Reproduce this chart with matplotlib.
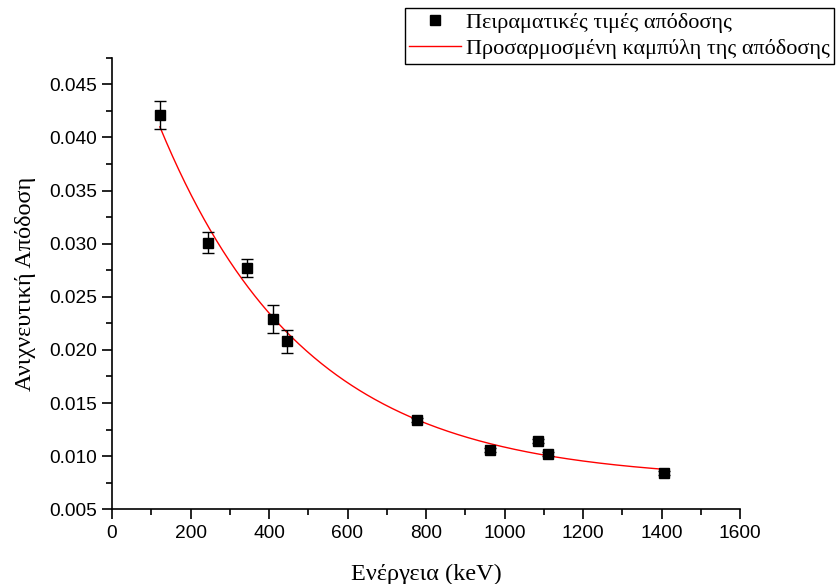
import numpy as np
import matplotlib
matplotlib.use("Agg")
import matplotlib.pyplot as plt
from matplotlib.ticker import MultipleLocator

# Data
energy = [122, 245, 345, 411, 445, 778, 963, 1085, 1111, 1406]
efficiency = [0.0421, 0.0301, 0.0277, 0.0229, 0.0208, 0.0134, 0.0106, 0.0114, 0.0102, 0.00845]
eff_err = [0.0013, 0.0010, 0.00085, 0.00135, 0.0011, 0.0002, 0.0002, 0.0002, 0.0002, 0.0002]

# Fitted exponential decay parameters: y = y0 + A*exp(-x/t)
fit_y0 = 0.00771
fit_A = 0.0462
fit_t = 372.0

label_points = "Πειραματικές τιμές απόδοσης"
label_fit = "Προσαρμοσμένη καμπύλη της απόδοσης"
xlabel = "Ενέργεια (keV)"
ylabel = "Ανιχνευτική Απόδοση"

fig = plt.figure(figsize=(8.36, 5.84), dpi=100)
ax = fig.add_axes([112/836, 1-509.3/584, (740-112)/836, (509.3-57.7)/584])

xf = np.linspace(min(energy), max(energy), 400)
yf = fit_y0 + fit_A*np.exp(-xf/fit_t)

ax.errorbar(energy, efficiency, yerr=eff_err, fmt='none', ecolor='black',
            elinewidth=1.0, capsize=4, capthick=1.0, zorder=3)
pts, = ax.plot(energy, efficiency, 's', color='black', markersize=7.5, zorder=4,
               label=label_points)
ln, = ax.plot(xf, yf, '-', color='red', linewidth=1.0, zorder=2, label=label_fit)

ax.set_xlim(0, 1600)
ax.set_ylim(0.005, 0.0475)
ax.xaxis.set_major_locator(MultipleLocator(200))
ax.xaxis.set_minor_locator(MultipleLocator(100))
ax.yaxis.set_major_locator(MultipleLocator(0.005))
ax.yaxis.set_minor_locator(MultipleLocator(0.0025))
ax.yaxis.set_major_formatter(plt.FuncFormatter(lambda v, p: f"{v:.3f}"))

for s in ['top', 'right']:
    ax.spines[s].set_visible(False)
for s in ['left', 'bottom']:
    ax.spines[s].set_linewidth(1.2)

ax.tick_params(which='major', direction='out', length=7, width=1.2,
               labelsize=13.8, pad=4)
ax.tick_params(which='minor', direction='out', length=4, width=1.2)
for lab in ax.get_xticklabels() + ax.get_yticklabels():
    lab.set_family('Liberation Sans')

serif = ['Liberation Serif', 'DejaVu Serif']
ax.set_xlabel(xlabel, fontsize=17.5, family=serif, labelpad=16)
ax.set_ylabel(ylabel, fontsize=17.5, family=serif, labelpad=9)

leg = fig.legend(handles=[pts, ln], loc='upper left',
                 bbox_to_anchor=(405/836, 1-8/584),
                 prop={'family': serif, 'size': 16},
                 frameon=True, fancybox=False, edgecolor='black',
                 framealpha=1, borderpad=0.2, labelspacing=0.25,
                 handlelength=2.3, handletextpad=0.25, borderaxespad=0)
leg.get_frame().set_linewidth(1.0)

fig.savefig("out.png", dpi=100)
